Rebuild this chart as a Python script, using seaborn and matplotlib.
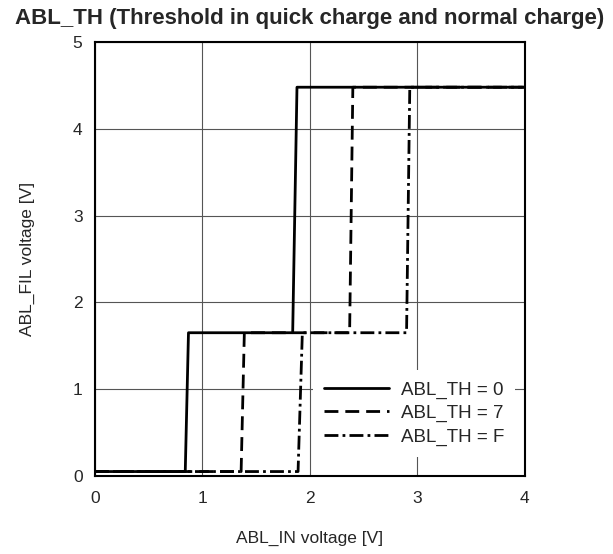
import seaborn as sns
import matplotlib.pyplot as plt

# step curves
x_th0 = [0, 0.84, 0.87, 1.84, 1.88, 4]
y_th0 = [0.05, 0.05, 1.65, 1.65, 4.48, 4.48]
x_th7 = [0, 1.36, 1.39, 2.37, 2.40, 4]
y_th7 = [0.05, 0.05, 1.65, 1.65, 4.48, 4.48]
x_thf = [0, 1.89, 1.93, 2.90, 2.93, 4]
y_thf = [0.05, 0.05, 1.65, 1.65, 4.48, 4.48]
labels = ['ABL_TH = 0', 'ABL_TH = 7', 'ABL_TH = F']

sns.set_style("white")
plt.rcParams['font.family'] = ['Liberation Sans', 'DejaVu Sans']

fig = plt.figure(figsize=(6.13, 5.54), dpi=100)
ax = fig.add_axes([0.155, 0.141, 0.701, 0.783])

sns.lineplot(x=x_th0, y=y_th0, ax=ax, color='black', lw=2, sort=False,
             estimator=None, label=labels[0])
sns.lineplot(x=x_th7, y=y_th7, ax=ax, color='black', lw=2, sort=False,
             estimator=None, label=labels[1])
sns.lineplot(x=x_thf, y=y_thf, ax=ax, color='black', lw=2, sort=False,
             estimator=None, label=labels[2])
ax.lines[1].set_dashes([5, 2.5])
ax.lines[2].set_dashes([5, 1.5, 1, 1.5])

ax.set_xlim(0, 4)
ax.set_ylim(0, 5)
ax.set_xticks([0, 1, 2, 3, 4])
ax.set_yticks([0, 1, 2, 3, 4, 5])
ax.grid(True, color='#555555', lw=0.8)
ax.tick_params(axis='x', length=0, labelsize=12.5, pad=11)
ax.tick_params(axis='y', length=0, labelsize=12.5, pad=9)
for s in ax.spines.values():
    s.set_color('black')
    s.set_linewidth(1.5)

ax.set_xlabel('ABL_IN voltage [V]', fontsize=12.5, labelpad=18)
ax.set_ylabel('ABL_FIL voltage [V]', fontsize=12.5, labelpad=27)
fig.suptitle('ABL_TH (Threshold in quick charge and normal charge)',
             fontsize=16, fontweight='bold', x=0.505, y=0.985)

leg = ax.legend(loc='lower right', bbox_to_anchor=(1.0, 0.022), fontsize=13.5,
                frameon=True, fancybox=False, framealpha=1, facecolor='white',
                edgecolor='none', handlelength=3.5, handletextpad=0.6,
                labelspacing=0.33, borderpad=0.6)

fig.savefig('out.png', dpi=100)
